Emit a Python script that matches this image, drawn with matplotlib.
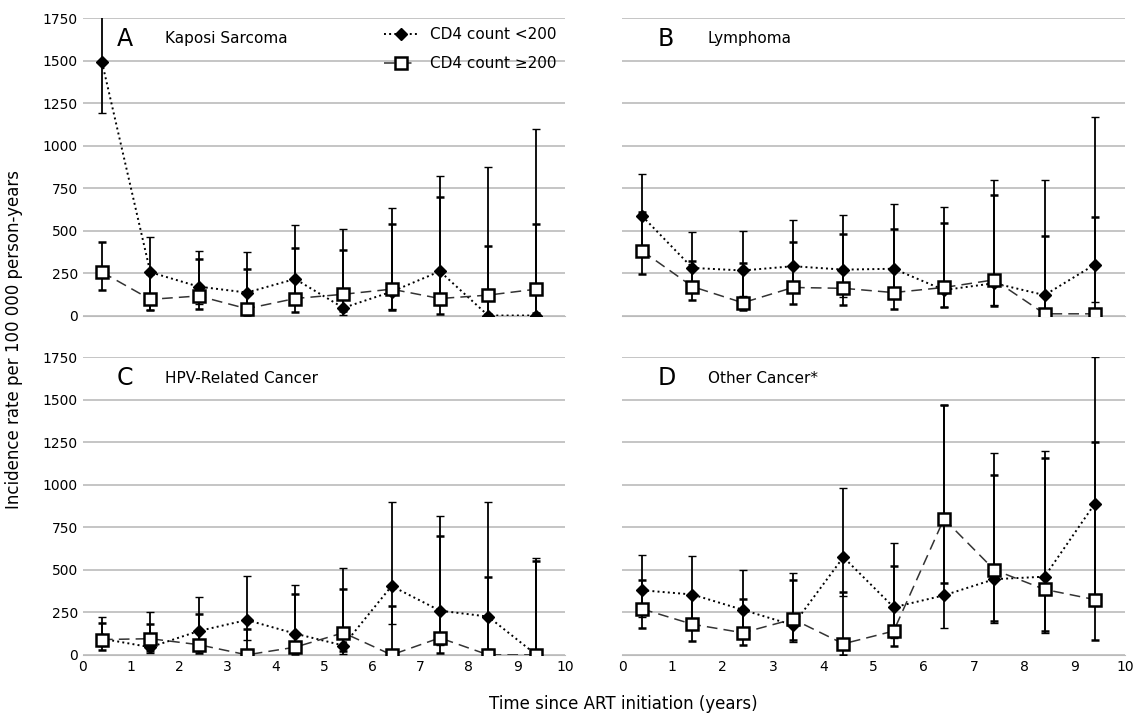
import numpy as np
import matplotlib.pyplot as plt
from matplotlib.lines import Line2D

x = np.arange(10) + 0.4

# panel A: Kaposi Sarcoma
a_lo = [1490, 255, 170, 135, 215, 45, 140, 260, 0, 0]
a_lo_err = [[300, 225, 100, 80, 120, 40, 100, 200, 0, 0], [300, 205, 210, 240, 315, 465, 490, 560, 875, 1100]]
a_hi = [255, 95, 115, 40, 100, 125, 155, 100, 120, 155]
a_hi_err = [[105, 60, 75, 35, 80, 100, 120, 90, 110, 140], [175, 150, 215, 235, 300, 260, 385, 600, 290, 385]]
# panel B: Lymphoma
b_lo = [585, 280, 265, 290, 270, 275, 150, 190, 120, 300]
b_lo_err = [[180, 120, 150, 150, 160, 170, 100, 130, 110, 220], [245, 210, 235, 270, 320, 380, 490, 610, 680, 870]]
b_hi = [380, 170, 75, 165, 160, 135, 165, 210, 10, 10]
b_hi_err = [[135, 80, 45, 95, 100, 95, 115, 155, 10, 10], [230, 150, 235, 265, 320, 375, 380, 500, 455, 570]]
# panel C: HPV-Related Cancer
c_lo = [95, 45, 140, 205, 125, 55, 405, 260, 225, 0]
c_lo_err = [[45, 35, 90, 120, 100, 50, 225, 200, 190, 0], [125, 205, 200, 260, 285, 455, 495, 555, 675, 570]]
c_hi = [90, 95, 60, 0, 45, 130, 0, 100, 0, 0]
c_hi_err = [[60, 70, 50, 0, 40, 110, 0, 90, 0, 0], [100, 85, 180, 150, 315, 255, 290, 600, 460, 550]]
# panel D: Other Cancer
d_lo = [380, 355, 265, 175, 575, 280, 350, 445, 460, 890]
d_lo_err = [[160, 170, 150, 100, 230, 180, 190, 255, 330, 600], [205, 225, 235, 305, 405, 380, 1120, 745, 740, 860]]
d_hi = [270, 180, 130, 210, 65, 140, 800, 500, 385, 325]
d_hi_err = [[110, 100, 70, 120, 65, 90, 380, 300, 245, 235], [170, 170, 200, 230, 305, 380, 670, 560, 775, 930]]

panels = [("A", "Kaposi Sarcoma", a_lo, a_lo_err, a_hi, a_hi_err),
          ("B", "Lymphoma", b_lo, b_lo_err, b_hi, b_hi_err),
          ("C", "HPV-Related Cancer", c_lo, c_lo_err, c_hi, c_hi_err),
          ("D", "Other Cancer*", d_lo, d_lo_err, d_hi, d_hi_err)]

fig = plt.figure(figsize=(11.33, 7.22), dpi=100)
boxes = [(0.073, 0.563, 0.426, 0.412), (0.549, 0.563, 0.444, 0.412),
         (0.073, 0.093, 0.426, 0.412), (0.549, 0.093, 0.444, 0.412)]

for i, (letter, name, lo, lo_err, hi, hi_err) in enumerate(panels):
    ax = fig.add_axes(boxes[i])
    ax.errorbar(x, lo, yerr=lo_err, fmt="D", ms=6, color="black", ecolor="black",
                elinewidth=1.3, capsize=3, ls=":", lw=1.4, zorder=3)
    ax.errorbar(x, hi, yerr=hi_err, fmt="s", ms=8, mfc="white", mec="black", mew=1.8,
                color="#333333", ecolor="black", elinewidth=1.3, capsize=3,
                ls=(0, (7, 4)), lw=1.1, zorder=4)
    ax.set_xlim(0, 10)
    ax.set_ylim(0, 1750)
    ax.set_yticks(np.arange(0, 1751, 250))
    ax.grid(axis="y", color="#bbbbbb", lw=1.2)
    ax.set_axisbelow(True)
    for s in ["top", "right", "left"]:
        ax.spines[s].set_visible(False)
    ax.spines["bottom"].set_color("#bbbbbb")
    ax.tick_params(length=0, labelsize=10)
    if i % 2 == 1:
        ax.set_yticklabels([])
    if i < 2:
        ax.set_xticklabels([])
    else:
        ax.set_xticks(range(11))
    ax.text(0.07, 0.93, letter, transform=ax.transAxes, fontsize=17, va="center")
    ax.text(0.17, 0.93, name, transform=ax.transAxes, fontsize=11, va="center")
    if i == 0:
        handles = [Line2D([], [], color="black", ls=":", lw=1.4, marker="D", ms=6),
                   Line2D([], [], color="#333333", ls=(0, (7, 4)), lw=1.1, marker="s", ms=8,
                          mfc="white", mec="black", mew=1.8)]
        ax.legend(handles, ["CD4 count <200", "CD4 count \u2265200"], loc="upper right",
                  frameon=False, fontsize=11, handlelength=2.2,
                  borderaxespad=0.2, labelspacing=0.9)

fig.text(0.012, 0.53, "Incidence rate per 100 000 person-years", rotation=90,
         va="center", ha="center", fontsize=12)
fig.text(0.55, 0.018, "Time since ART initiation (years)", ha="center", fontsize=12)
fig.savefig("out.png", dpi=100)
